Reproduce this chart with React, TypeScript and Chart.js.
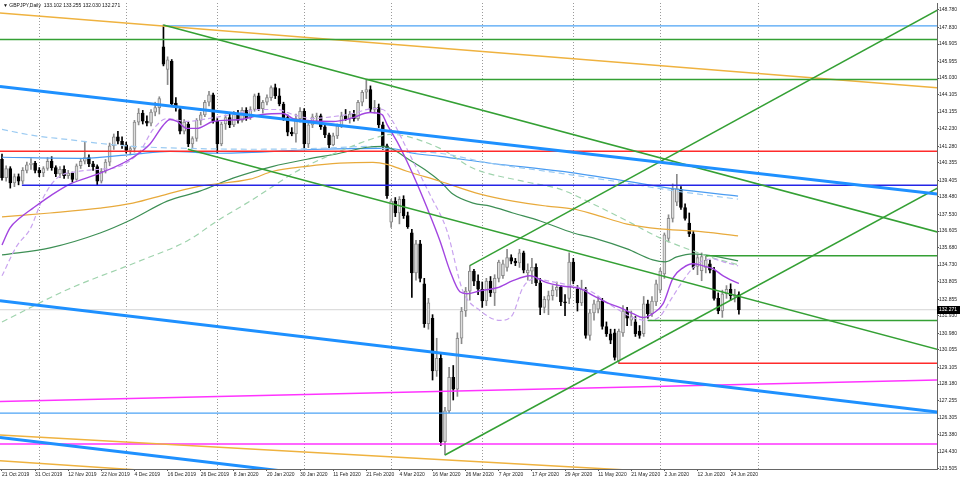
import React, { useEffect, useRef } from "react";
import { Chart, registerables } from "chart.js";
Chart.register(...registerables);

const titleText = "\u25BC GBPJPY,Daily  133.102 133.255 132.030 132.271";
const lastPriceText = "132.271";
const lastPrice = 132.271;

const openP = [140.55,139.55,140.05,139.25,139.60,139.35,139.95,140.25,140.35,139.95,139.80,140.05,140.45,140.10,139.75,140.00,139.65,139.80,139.45,140.20,140.45,140.65,140.30,140.15,139.35,139.90,140.40,141.30,141.80,141.55,141.35,141.05,141.15,142.60,143.10,142.65,142.55,143.15,143.40,146.75,145.50,145.95,143.65,143.30,142.10,142.50,141.40,141.70,142.70,143.00,143.70,144.10,142.65,141.40,142.50,142.85,142.45,143.05,142.70,143.25,142.85,143.30,144.05,143.35,143.70,143.95,144.50,144.05,143.60,142.85,142.05,141.95,142.80,143.20,141.40,142.45,142.90,142.95,142.35,141.90,141.35,141.85,142.40,142.95,142.80,143.05,142.80,143.70,144.25,144.40,143.30,143.40,142.45,141.30,137.10,138.25,137.60,138.35,137.45,136.50,134.30,135.90,133.70,131.50,131.80,128.90,129.60,125.00,126.70,128.55,127.90,130.70,132.20,133.30,134.40,133.85,133.40,132.75,133.85,133.20,134.00,134.15,134.60,135.15,134.95,134.85,135.40,134.30,134.40,134.60,133.75,132.40,132.80,133.05,133.35,133.50,132.70,132.90,134.90,133.40,132.65,133.40,130.85,132.10,132.30,132.75,131.35,130.95,131.00,129.45,131.00,132.20,131.70,131.60,131.10,130.95,132.60,132.05,132.70,133.35,134.25,136.20,137.30,138.20,138.90,137.90,137.05,136.45,134.65,134.42,134.60,134.80,134.45,132.90,132.20,133.15,133.40,133.00,133.102];
const highP = [140.85,140.20,140.15,139.75,139.75,140.10,140.40,140.60,140.45,140.10,140.15,140.65,140.70,140.20,140.15,140.20,139.95,139.85,140.30,140.55,141.55,140.80,140.45,140.25,140.05,140.55,141.45,141.95,142.10,141.80,141.50,141.25,142.70,143.35,143.25,142.95,143.30,143.70,144.00,147.95,146.20,146.05,143.95,143.45,142.75,142.65,141.80,142.80,143.15,143.80,144.30,144.20,142.80,142.60,143.00,143.10,143.20,143.25,143.40,143.40,143.45,144.15,144.20,143.80,144.10,144.60,144.70,144.45,143.70,143.00,142.30,143.05,143.40,143.35,142.55,143.05,143.10,143.05,142.50,142.00,142.00,142.50,143.15,143.30,143.20,143.25,143.80,144.35,144.95,144.60,143.80,143.60,142.60,141.40,138.35,138.45,138.50,138.55,137.65,136.70,136.10,136.10,134.00,132.90,132.00,130.70,129.90,126.90,129.10,129.20,131.00,132.40,133.50,134.70,134.50,134.20,133.80,134.00,134.10,134.20,135.00,135.00,135.60,135.30,135.10,135.60,135.50,134.80,135.10,134.80,134.00,133.00,133.30,133.60,133.80,133.60,133.10,135.40,135.10,133.60,133.90,133.50,132.30,132.80,133.00,132.90,131.60,131.20,131.20,131.20,132.50,132.40,132.20,131.90,131.40,133.00,132.80,133.00,133.90,134.55,136.50,137.50,139.20,139.73,139.05,138.10,137.60,136.60,135.30,135.40,135.25,135.00,134.60,133.20,133.35,133.60,133.70,133.40,133.255];
const lowP = [139.40,139.35,138.97,139.05,139.15,139.20,139.80,140.00,139.80,139.60,139.60,139.95,139.95,139.60,139.55,139.50,139.50,139.30,139.40,140.05,140.30,140.15,139.95,139.15,139.25,139.80,140.20,141.10,141.40,141.15,140.90,140.80,140.95,142.45,142.50,142.40,142.40,142.95,143.05,145.70,144.67,143.50,143.20,141.95,141.95,141.25,141.20,141.55,142.45,142.90,143.50,142.55,140.90,141.30,142.20,142.30,142.35,142.55,142.60,142.70,142.75,143.20,143.25,143.10,143.55,143.80,143.90,143.50,142.70,141.85,141.85,141.50,142.60,141.15,141.20,142.30,142.65,142.20,141.75,141.20,141.30,141.70,142.30,142.70,142.55,142.65,142.70,143.50,143.90,143.15,143.10,142.30,141.10,138.40,136.80,137.40,137.00,137.30,136.75,132.95,133.90,133.80,131.30,131.20,128.40,128.60,124.80,124.27,126.60,127.30,127.50,130.40,131.90,132.80,133.60,133.10,132.40,132.50,133.00,132.50,133.80,134.00,134.40,134.80,134.70,134.60,134.30,133.90,133.70,133.60,132.00,132.10,132.00,132.80,133.00,132.50,131.95,132.60,133.70,132.20,132.50,130.70,130.60,131.70,132.10,131.20,130.80,130.40,129.50,129.30,130.80,131.40,131.40,130.80,130.70,130.80,131.80,131.90,132.50,133.20,134.00,136.00,137.10,138.00,137.80,137.20,136.30,134.50,134.20,133.87,134.30,134.30,132.80,132.05,131.85,132.90,132.80,132.70,132.030];
const closeP = [139.55,140.05,139.25,139.60,139.35,139.95,140.25,140.35,139.95,139.80,140.05,140.45,140.10,139.75,140.00,139.65,139.80,139.45,140.20,140.45,140.65,140.30,140.15,139.35,139.90,140.40,141.30,141.80,141.55,141.35,141.05,141.15,142.60,143.10,142.65,142.55,143.15,143.40,143.90,145.80,146.04,143.60,143.40,142.10,142.60,141.40,141.70,142.70,143.00,143.70,144.10,142.65,141.40,142.50,142.85,142.45,143.05,142.70,143.25,142.85,143.30,144.05,143.35,143.70,143.95,144.50,144.05,143.60,142.85,142.05,141.95,142.80,143.20,141.40,142.45,142.90,142.95,142.35,141.90,141.35,141.85,142.40,142.95,142.80,143.05,142.80,143.70,144.25,144.40,143.30,143.40,142.45,141.30,138.55,138.25,137.60,138.35,137.45,136.85,134.30,135.90,134.00,131.50,132.65,128.90,129.60,125.00,126.70,128.55,127.90,130.70,132.20,133.30,134.40,133.85,133.40,132.75,133.85,133.20,134.00,134.90,134.80,135.15,134.95,134.85,135.40,134.45,134.45,134.60,133.75,132.40,132.85,133.05,133.35,133.50,132.70,132.65,134.90,133.85,132.65,133.40,130.85,132.10,132.60,132.75,131.35,130.95,130.60,129.65,131.10,132.20,131.80,131.90,130.95,130.85,132.60,132.05,132.75,133.70,134.40,136.40,137.30,138.90,138.95,137.90,137.30,136.45,134.60,135.15,135.20,135.00,134.45,132.90,132.20,133.15,133.40,133.05,133.10,132.271];

const xTickBars = [0,8,16,24,32,40,48,56,64,72,80,88,96,104,112,120,128,136,144,152,160,168,176];
const xTickLabels = ["21 Oct 2019","31 Oct 2019","12 Nov 2019","22 Nov 2019","4 Dec 2019","16 Dec 2019","26 Dec 2019","8 Jan 2020","20 Jan 2020","30 Jan 2020","11 Feb 2020","21 Feb 2020","4 Mar 2020","16 Mar 2020","26 Mar 2020","7 Apr 2020","17 Apr 2020","29 Apr 2020","11 May 2020","21 May 2020","2 Jun 2020","12 Jun 2020","24 Jun 2020"];
const monthGridBars = [9,30,52,73,94,116,138,159,182.8];
const yTickValues = [148.780,147.830,146.905,145.955,145.030,144.105,143.155,142.230,141.280,140.355,139.405,138.480,137.530,136.605,135.680,134.730,133.805,132.855,131.930,130.980,130.055,129.105,128.180,127.255,126.305,125.380,124.430,123.505];

const maFastBars = [0,1.9,4.3,7.5,11.6,16.4,23.7,30.9,35.7,38.9,40.6,42.3,44.7,47.1,51,57.5,63,67.9,70.3,73.7,80,84.1,88.9,91.8,93,95.4,97.8,100.2,102.7,105.8,108.2,110.6,112.3,115.5,119.6,123.4,127.5,131.6,134.8,139.6,142.8,146.1,149.3,152.4,154.8,157.2,159.7,162.1,164.5,166.9,169.3,171.7,174.2,177.5,178];
const maFastVals = [135.84,136.77,137.32,137.87,138.53,139.19,139.79,140.56,141.38,142.42,142.75,142.64,142.26,142.26,142.64,142.75,143.02,143.08,142.80,142.69,142.64,142.80,143.13,143.02,142.48,141.54,140.45,139.24,137.87,136.06,134.42,133.26,133.15,133.32,133.48,133.87,134.14,133.76,133.59,133.43,133.05,132.66,132.39,132.06,131.84,132.06,132.61,134.03,134.58,134.80,134.69,134.53,134.14,133.76,133.72];
const maFastDashBars = [0,3.6,6.8,9.9,13.3,18.8,23.7,27.8,33.3,36.5,39.9,44.7,48.6,56.8,62.3,66.4,70.3,75.1,80,84.8,89.6,92,94.4,96.9,99.3,103.4,107.5,111.3,115.5,120.3,123.2,125.8,128.7,131.6,139.6,142.8,146.1,149.3,152.4,155.8,158.9,161.4,164.5,166.9,169.3,171.7,174.2,177.8];
const maFastDashVals = [134.14,135.79,136.72,138.42,139.52,139.90,140.01,140.12,140.99,142.20,142.80,142.64,142.75,143.08,143.30,143.30,143.02,142.80,142.91,143.08,143.35,143.30,142.64,141.54,140.45,138.60,136.61,133.32,132.22,131.68,131.95,133.48,133.98,133.87,133.48,133.21,132.66,132.22,131.84,131.68,131.90,132.77,133.87,134.58,134.96,135.07,134.91,134.69];
const maGreenBars = [0,11.6,23.7,31.6,39.9,47.8,55.8,65.5,73.7,81.6,88.2,92,94.4,97.8,102.7,105.8,108.9,113.8,117.9,123.4,130,138,142.8,151,157.2,160.2,163,166.9,171.7,177.8];
const maGreenVals = [135.29,135.68,136.50,137.27,138.25,138.80,139.52,140.17,140.56,140.89,141.22,141.27,141.11,140.61,139.90,139.35,138.64,138.14,137.98,137.60,137.16,136.50,136.23,135.62,135.02,134.91,135.18,135.35,135.24,134.96];
const maGreenDashBars = [0,16,33.3,44.7,52.7,59.9,72,81.6,91.3,93.7,105.8,113.8,125.8,134.8,142.8,151,158.9,166.9,171.7,177.8];
const maGreenDashVals = [131.6,133.4,134.96,136.06,137.27,138.25,140.00,141.00,141.82,141.93,141.16,140.06,139.35,138.91,138.09,137.16,136.23,135.51,135.13,134.75];
const maOrangeBars = [0,11.6,23.7,31.6,39.9,47.8,59.9,65.5,73.7,81.6,89.6,93,97.8,105.8,115.5,123.4,131.6,138,142.8,151,158.9,166.9,177.8];
const maOrangeVals = [137.38,137.60,137.87,138.14,138.64,139.08,139.46,139.90,140.17,140.34,140.39,140.28,139.90,139.35,138.64,138.25,137.98,137.82,137.54,136.99,136.72,136.61,136.34];
const maBlueDashBars = [0,7.5,15.7,23.7,31.6,44.7,60.6,76.8,88.9,92,97.8,105.8,117.9,134.8,149.3,163,177.8];
const maBlueDashVals = [142.20,141.87,141.65,141.43,141.27,141.16,141.11,141.16,141.27,141.16,140.99,140.89,140.34,139.79,139.30,138.80,138.36];
const maBlueBars = [0,19.6,31.6,40.6,52.7,76.8,91.3,95.4,99.3,105.8,117.9,134.8,149.3,163,177.8];
const maBlueVals = [140.67,140.61,140.83,140.99,140.89,141.11,141.16,141.11,140.89,140.72,140.34,139.90,139.41,138.91,138.53];

// trend lines: [bar, price] endpoints
const orangeTop = [[-0.5, 148.62], [226, 144.50]];
const orangeBottomA = [[-0.5, 125.37], [226, 122.49]];
const orangeBottomB = [[-0.5, 123.96], [226, 120.47]];
const blueThickUpper = [[-0.5, 144.56], [226, 138.64]];
const blueThickLower = [[-0.5, 132.77], [226, 126.63]];
const blueThickBottom = [[-0.5, 125.23], [226, 119.12]];
const lightBlueTop = [[39, 147.90], [226, 147.90]];
const lightBlueLow = [[-0.5, 126.58], [226, 126.58]];
const greenTop = [[-0.5, 147.16], [226, 147.16]];
const green145 = [[88, 144.95], [226, 144.95]];
const redUpper = [[-0.5, 141.00], [226, 141.00]];
const navyLevel = [[4.8, 139.13], [226, 139.13]];
const greenDescUpper = [[39, 147.95], [226, 136.55]];
const greenDescLower = [[44.9, 141.11], [226, 130.09]];
const greenAscLower = [[107, 124.27], [226, 138.97]];
const greenAscUpper = [[113, 134.70], [226, 148.78]];
const green135 = [[170, 135.24], [226, 135.24]];
const green131 = [[156, 131.68], [226, 131.68]];
const redLower = [[149, 129.32], [226, 129.32]];
const magentaSloped = [[-0.5, 127.22], [226, 128.40]];
const magentaLow = [[-0.5, 124.87], [226, 124.87]];

const FONT = "'Liberation Sans', Arial, sans-serif";

export default function App() {
  const ref = useRef<HTMLCanvasElement | null>(null);
  useEffect(() => {
    document.body.style.margin = "0";
    const canvas = ref.current;
    if (!canvas) return;
    const bull = closeP.map((c, i) => c >= openP[i]);
    const bodies = closeP.map((c, i) => ({ x: i, y: [openP[i], c] }));
    const wicks = closeP.map((c, i) => ({ x: i, y: [lowP[i], highP[i]] }));
    const pts = (xs: number[], ys: number[]) => xs.map((x, k) => ({ x, y: ys[k] }));
    const seg = (a: number[][]) => a.map((p) => ({ x: p[0], y: p[1] }));
    const line = (data: any, color: string, width: number, order: number, dash: number[] = [], smooth = false) => ({
      type: "line" as const,
      data,
      borderColor: color,
      borderWidth: width,
      borderDash: dash,
      pointRadius: 0,
      fill: false,
      order,
      clip: 0,
      cubicInterpolationMode: smooth ? ("monotone" as const) : ("default" as const),
      tension: 0,
    });

    const datasets: any[] = [
      line(seg([[-0.5, lastPrice], [226, lastPrice]]), "#d4d4d4", 1, 40),
      {
        type: "bar",
        data: wicks,
        backgroundColor: bull.map((b) => (b ? "#8a8a8a" : "#000000")),
        barThickness: 1,
        grouped: false,
        order: 31,
        borderWidth: 0,
      },
      {
        type: "bar",
        data: bodies,
        backgroundColor: bull.map((b) => (b ? "#dedede" : "#000000")),
        borderColor: bull.map((b) => (b ? "#8a8a8a" : "#000000")),
        borderWidth: 1,
        borderSkipped: false,
        barThickness: 3,
        minBarLength: 1,
        grouped: false,
        order: 30,
      },
      line(pts(maOrangeBars, maOrangeVals), "#e8aa3c", 1.2, 20, [], true),
      line(pts(maGreenDashBars, maGreenDashVals), "#9fd3ad", 1.2, 20, [6, 4], true),
      line(pts(maGreenBars, maGreenVals), "#3d8f55", 1.2, 20, [], true),
      line(pts(maBlueDashBars, maBlueDashVals), "#9ccbf2", 1.2, 20, [6, 4], true),
      line(pts(maBlueBars, maBlueVals), "#4a9cf2", 1.2, 20, [], true),
      line(pts(maFastDashBars, maFastDashVals), "#c9a3ef", 1.2, 19, [5, 3], true),
      line(pts(maFastBars, maFastVals), "#a245e0", 1.4, 18, [], true),
      line(seg(orangeTop), "#efb23f", 1.5, 10),
      line(seg(orangeBottomA), "#efb23f", 1.5, 10),
      line(seg(orangeBottomB), "#efb23f", 1.5, 10),
      line(seg(lightBlueTop), "#4da3f5", 1.2, 10),
      line(seg(lightBlueLow), "#4da3f5", 1.2, 10),
      line(seg(magentaSloped), "#ff33ff", 1.5, 10),
      line(seg(magentaLow), "#ff33ff", 1.5, 10),
      line(seg(greenTop), "#34a034", 1.5, 9),
      line(seg(green145), "#34a034", 1.5, 9),
      line(seg(green135), "#34a034", 1.5, 9),
      line(seg(green131), "#34a034", 1.5, 9),
      line(seg(greenDescUpper), "#34a034", 1.5, 9),
      line(seg(greenDescLower), "#34a034", 1.5, 9),
      line(seg(greenAscLower), "#34a034", 1.5, 9),
      line(seg(greenAscUpper), "#34a034", 1.5, 9),
      line(seg(redUpper), "#ff2b2b", 1.5, 9),
      line(seg(redLower), "#ff2b2b", 1.5, 9),
      line(seg(navyLevel), "#2424e6", 1.5, 9),
      line(seg(blueThickUpper), "#1e90ff", 3, 8),
      line(seg(blueThickLower), "#1e90ff", 3, 8),
      line(seg(blueThickBottom), "#1e90ff", 3, 8),
    ];

    const overlay = {
      id: "overlay",
      afterDraw(chart: any) {
        const ctx = chart.ctx;
        const ys = chart.scales.y;
        const area = chart.chartArea;
        ctx.save();
        ctx.font = `5px ${FONT}`;
        ctx.fillStyle = "#111";
        ctx.textBaseline = "middle";
        ctx.textAlign = "left";
        ctx.fillText(titleText, 3, 6);
        const py = Math.round(ys.getPixelForValue(lastPrice));
        ctx.fillStyle = "#000";
        ctx.fillRect(area.right, py - 4, 23, 8);
        ctx.fillStyle = "#fff";
        ctx.fillText(lastPriceText, area.right + 2, py);
        ctx.restore();
      },
    };

    const chart = new Chart(canvas, {
      type: "bar",
      data: { datasets },
      plugins: [overlay],
      options: {
        responsive: false,
        animation: false,
        devicePixelRatio: 1,
        layout: { padding: { top: 1, left: 0, right: 0, bottom: 0 } },
        plugins: { legend: { display: false }, tooltip: { enabled: false } },
        events: [],
        scales: {
          x: {
            type: "linear",
            position: "bottom",
            min: -0.483,
            max: 225.85,
            offset: false,
            afterBuildTicks: (s: any) => {
              s.ticks = xTickBars.map((v) => ({ value: v }));
            },
            afterFit: (s: any) => {
              s.height = 13;
            },
            ticks: {
              autoSkip: false,
              maxRotation: 0,
              align: "start",
              padding: 1,
              color: "#222",
              font: { size: 5, family: FONT },
              callback: (v: any) => {
                const k = xTickBars.indexOf(Number(v));
                return k >= 0 ? xTickLabels[k] : "";
              },
            },
            grid: { drawOnChartArea: false, drawTicks: true, tickLength: 2, color: "#555", offset: false },
            border: { display: true, color: "#666", width: 1 },
          },
          xg: {
            type: "linear",
            position: "bottom",
            min: -0.483,
            max: 225.85,
            offset: false,
            afterBuildTicks: (s: any) => {
              s.ticks = monthGridBars.map((v) => ({ value: v }));
            },
            afterFit: (s: any) => {
              s.height = 0;
            },
            ticks: { display: false },
            grid: { drawOnChartArea: true, drawTicks: false, color: "#9a9a9a", lineWidth: 1, offset: false },
            border: { display: false, dash: [1, 2] },
          },
          y: {
            type: "linear",
            position: "right",
            min: 123.5,
            max: 149.164,
            afterBuildTicks: (s: any) => {
              s.ticks = yTickValues.map((v) => ({ value: v }));
            },
            afterFit: (s: any) => {
              s.width = 23;
            },
            ticks: {
              autoSkip: false,
              padding: 0,
              color: "#222",
              font: { size: 5, family: FONT },
              crossAlign: "near",
              callback: (v: any) => Number(v).toFixed(3),
            },
            grid: { drawOnChartArea: false, drawTicks: true, tickLength: 2, color: "#555" },
            border: { display: true, color: "#666", width: 1 },
          },
        },
      },
    } as any);
    return () => chart.destroy();
  }, []);
  return (
    <div style={{ width: 960, height: 482, background: "#fff" }}>
      <canvas ref={ref} width={960} height={482} style={{ display: "block" }} />
    </div>
  );
}
